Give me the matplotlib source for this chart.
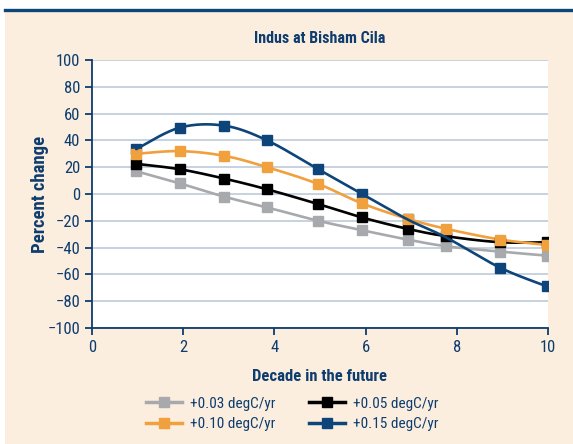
import numpy as np
import matplotlib
matplotlib.use('Agg')
import matplotlib.pyplot as plt
from matplotlib.patches import Rectangle
from matplotlib.lines import Line2D

# Data
decade = [0.97, 1.92, 2.9, 3.84, 4.96, 5.92, 6.92, 7.77, 8.95, 9.98]
warm_003 = [17, 8, -2, -10, -20, -27, -34, -39, -43, -46]
warm_005 = [22.5, 18.5, 11.5, 3.5, -7.5, -17.5, -26, -31.5, -36, -36]
warm_010 = [30, 32, 28.5, 20, 7.5, -7, -18.5, -26, -34, -38]
warm_015 = [33.5, 49.5, 51, 40, 18.5, 0, -19, -32.5, -55, -69]

labels = ['+0.03 degC/yr', '+0.05 degC/yr', '+0.10 degC/yr', '+0.15 degC/yr']
colors = ['#a7a9ac', '#000000', '#f0a03c', '#0d4479']
navy = '#0d3c6e'

plt.rcParams['font.family'] = ['Liberation Sans Narrow', 'Roboto Condensed', 'PT Sans Narrow',
                               'Archivo Narrow', 'Open Sans Condensed', 'DejaVu Sans']


def smooth(x, y, sx, sy, n=30):
    # Excel-style smoothed line (Catmull-Rom) computed in screen scale
    p = np.column_stack([np.array(x) * sx, np.array(y) * sy])
    pts = []
    for i in range(len(p) - 1):
        p0 = p[i - 1] if i > 0 else p[i]
        p3 = p[i + 2] if i + 2 < len(p) else p[i + 1]
        p1, p2 = p[i], p[i + 1]
        c1 = p1 + (p2 - p0) / 6
        c2 = p2 - (p3 - p1) / 6
        t = np.linspace(0, 1, n)[:, None]
        seg = ((1 - t) ** 3) * p1 + 3 * ((1 - t) ** 2) * t * c1 + 3 * (1 - t) * t ** 2 * c2 + t ** 3 * p2
        pts.append(seg if i == 0 else seg[1:])
    pts = np.vstack(pts)
    return pts[:, 0] / sx, pts[:, 1] / sy


fig = plt.figure(figsize=(5.73, 4.44), dpi=100)
fig.patch.set_facecolor('white')
bg = Rectangle((5 / 573, 0), 1, (444 - 12) / 444, transform=fig.transFigure,
               facecolor='#fbeedf', edgecolor='none', zorder=-10)
fig.add_artist(bg)
fig.add_artist(Line2D([5 / 573, 1], [(444 - 10) / 444] * 2, transform=fig.transFigure,
                      color='#0d4479', linewidth=2.4, zorder=-9))

ax = fig.add_axes([92 / 573, (444 - 328) / 444, 456 / 573, 268 / 444])
ax.set_facecolor('white')
ax.set_xlim(0, 10)
ax.set_ylim(-100, 100)

sx, sy = 45.6, 1.34
series = [warm_003, warm_005, warm_010, warm_015]
handles = []
for vals, col, lab in zip(series, colors, labels):
    xs, ys = smooth(decade, vals, sx, sy)
    is_blue = lab.startswith('+0.15')
    ax.plot(xs, ys, color=col, linewidth=1.9, zorder=5 if is_blue else 3, solid_capstyle='round')
    ax.plot(decade, vals, linestyle='none', marker='s', markersize=7.5, color=col,
            zorder=2.5 if is_blue else 4)
    handles.append(Line2D([], [], color=col, linewidth=2.5, marker='s', markersize=7, label=lab))

ax.set_yticks(np.arange(-100, 101, 20))
ax.set_xticks(np.arange(0, 11, 2))
ax.set_yticklabels([str(v).replace('-', '\u2212') for v in range(-100, 101, 20)])
ax.grid(axis='y', color='#bccbd9', linewidth=1.2)
ax.set_axisbelow(True)
for s in ['top', 'right']:
    ax.spines[s].set_visible(False)
for s in ['left', 'bottom']:
    ax.spines[s].set_color(navy)
    ax.spines[s].set_linewidth(1.3)
ax.tick_params(colors=navy, labelsize=12, width=1.3, length=5, direction='out')

ax.set_title('Indus at Bisham Cila', color=navy, fontsize=11.5, fontweight='bold', pad=12)
ax.set_xlabel('Decade in the future', color=navy, fontsize=12, fontweight='bold', labelpad=10)
ax.set_ylabel('Percent change', color=navy, fontsize=13.5, fontweight='bold')
ax.yaxis.set_label_coords(-0.095, 0.5)

order = [0, 2, 1, 3]
leg = fig.legend([handles[i] for i in order], [labels[i] for i in order], ncol=2,
                 loc='center', bbox_to_anchor=(0.51, 0.068), frameon=False,
                 fontsize=11, handlelength=2.35, columnspacing=2.2, labelspacing=0.42,
                 handletextpad=0.55)
for t in leg.get_texts():
    t.set_color(navy)

fig.savefig('out.png', dpi=100, facecolor=fig.get_facecolor())
